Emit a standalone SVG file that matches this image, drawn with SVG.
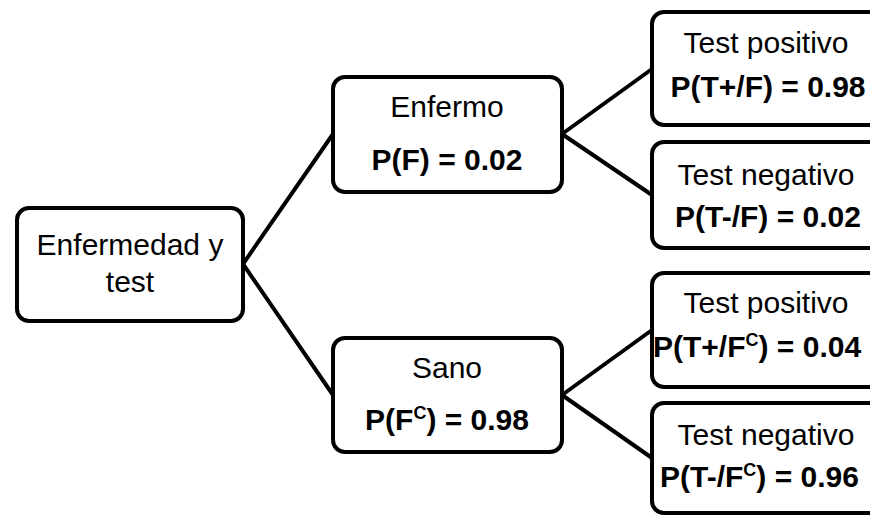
<svg xmlns="http://www.w3.org/2000/svg" width="870" height="515" viewBox="0 0 870 515">
<style>
.box{fill:#fff;stroke:#000;stroke-width:4}
.con line{stroke:#000;stroke-width:4;stroke-linecap:round}
text{font-family:"Liberation Sans",Arial,sans-serif;font-size:30px;fill:#000;text-anchor:middle}
.b{font-weight:bold}
.sup{font-size:18px}
</style>
<rect width="870" height="515" fill="#fff"/>
<g id="connectors" class="con">
<line x1="243" y1="264" x2="333" y2="134"/>
<line x1="243" y1="264" x2="333" y2="395"/>
<line x1="562" y1="134" x2="652" y2="69"/>
<line x1="562" y1="134" x2="652" y2="195"/>
<line x1="562" y1="395" x2="652" y2="330"/>
<line x1="562" y1="395" x2="652" y2="458"/>
</g>
<g id="root">
<rect class="box" x="17" y="208" width="226" height="113" rx="12"/>
<text x="130" y="255">Enfermedad y</text>
<text x="130" y="292">test</text>
</g>
<g id="enfermo">
<rect class="box" x="333" y="77" width="229" height="115" rx="12"/>
<text x="447" y="117">Enfermo</text>
<text class="b" x="447" y="170">P(F) = 0.02</text>
</g>
<g id="sano">
<rect class="box" x="333" y="338" width="229" height="114" rx="12"/>
<text x="447" y="378">Sano</text>
<text class="b" x="447" y="430">P(F<tspan class="sup" dy="-11">C</tspan><tspan dy="11">) = 0.98</tspan></text>
</g>
<g id="pos-f">
<rect class="box" x="652" y="12" width="230" height="113" rx="12"/>
<text x="766" y="53">Test positivo</text>
<text class="b" x="768" y="97">P(T+/F) = 0.98</text>
</g>
<g id="neg-f">
<rect class="box" x="652" y="142" width="230" height="106" rx="12"/>
<text x="766" y="185">Test negativo</text>
<text class="b" x="768" y="227">P(T-/F) = 0.02</text>
</g>
<g id="pos-fc">
<rect class="box" x="652" y="273" width="230" height="114" rx="12"/>
<text x="766" y="313">Test positivo</text>
<text class="b" x="653" y="357" style="text-anchor:start">P(T+/F<tspan class="sup" dy="-11">C</tspan><tspan dy="11">) = 0.04</tspan></text>
</g>
<g id="neg-fc">
<rect class="box" x="652" y="403" width="230" height="110" rx="12"/>
<text x="766" y="445">Test negativo</text>
<text class="b" x="660" y="487" style="text-anchor:start">P(T-/F<tspan class="sup" dy="-11">C</tspan><tspan dy="11">) = 0.96</tspan></text>
</g>
</svg>
